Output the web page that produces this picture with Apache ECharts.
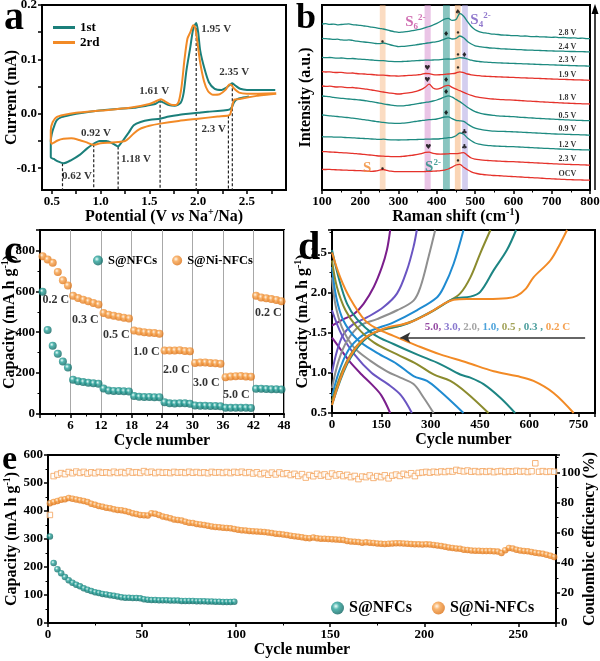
<!DOCTYPE html>
<html><head><meta charset="utf-8">
<script src="https://cdn.jsdelivr.net/npm/echarts@6/dist/echarts.min.js"></script>
<style>html,body{margin:0;padding:0;background:#fff}#c{width:600px;height:661px}</style>
</head><body><div id="c"></div>
<script>
// ---------- Panel a : CV curves ----------
const cv1V = [2.52,2.46,2.40,2.37,2.35,2.33,2.30,2.2,2.1,2.0,1.9,1.8,1.7,1.61,1.51,1.41,1.34,1.29,1.23,1.20,1.18,1.13,1.06,0.99,0.93,0.86,0.79,0.70,0.62,0.57,0.52,0.49,
  0.49,0.50,0.52,0.55,0.60,0.69,0.82,0.99,1.17,1.34,1.47,1.56,1.61,1.64,1.70,1.76,1.82,1.85,1.88,1.92,1.95,1.98,2.00,2.02,2.06,2.11,2.17,2.24,2.29,2.33,2.35,2.38,2.43,2.50,2.79];
const cv1I = [0.032,0.030,0.027,0.022,0.014,0.009,0.007,0.005,0.004,0.002,0.000,-0.002,-0.005,-0.009,-0.011,-0.015,-0.021,-0.034,-0.049,-0.056,-0.060,-0.055,-0.050,-0.050,-0.055,-0.064,-0.075,-0.085,-0.091,-0.088,-0.083,-0.080,
  -0.050,-0.037,-0.025,-0.012,-0.006,-0.002,0.002,0.006,0.009,0.011,0.015,0.018,0.023,0.021,0.016,0.015,0.020,0.037,0.080,0.123,0.157,0.167,0.150,0.117,0.086,0.058,0.046,0.044,0.048,0.054,0.056,0.052,0.046,0.044,0.044];
const cv2V = [2.80,2.70,2.60,2.50,2.42,2.37,2.35,2.33,2.31,2.20,2.00,1.80,1.61,1.50,1.40,1.34,1.29,1.25,1.18,1.10,1.00,0.93,0.85,0.78,0.70,0.62,0.56,0.52,0.50,
  0.49,0.49,0.51,0.55,0.62,0.75,1.00,1.30,1.50,1.58,1.62,1.66,1.72,1.77,1.80,1.83,1.86,1.89,1.92,1.95,1.97,1.99,2.02,2.06,2.10,2.15,2.22,2.28,2.32,2.34,2.37,2.42,2.50,2.80];
const cv2I = [0.037,0.035,0.033,0.030,0.027,0.026,0.015,0.000,-0.003,-0.005,-0.009,-0.013,-0.018,-0.022,-0.028,-0.036,-0.045,-0.050,-0.052,-0.053,-0.054,-0.057,-0.052,-0.048,-0.045,-0.046,-0.049,-0.053,-0.055,
  -0.050,-0.030,-0.015,-0.006,-0.002,0.002,0.006,0.011,0.018,0.024,0.027,0.023,0.017,0.016,0.022,0.050,0.100,0.138,0.150,0.163,0.158,0.135,0.095,0.060,0.042,0.035,0.036,0.044,0.054,0.053,0.046,0.039,0.037,0.038];
const dashX = [0.61,0.93,1.18,1.61,1.98,2.31,2.35];
const dashTop = [-0.091,-0.056,-0.060,0.026,0.167,-0.003,0.056];
const aLblText = ['1.95 V','2.35 V','1.61 V','0.92 V','2.3 V','1.18 V','0.62 V'];
const aLblX = [2.185,2.37,1.55,0.954,2.16,1.364,0.759];
const aLblY = [0.155,0.076,0.041,-0.035,-0.029,-0.084,-0.115];

// ---------- Panel b : Raman spectra (stacked, a.u.) ----------
const ramanStart = 100, ramanStep = 10;
const specNames = ['2.8 V','2.4 V','2.3 V','1.9 V','1.8 V','0.5 V','0.9 V','1.2 V','2.3 V','OCV'];
const specKind = ['t','t','t','r','r','t','t','t','r','r'];
const spec1 = [166.0,166.3,165.6,165.9,165.2,165.5,165.8,166.1,165.4,165.0,164.6,164.0,163.6,162.8,162.4,161.6,161.0,160.2,159.0,158.2,157.6,157.9,158.3,158.8,159.6,160.3,161.2,162.4,163.5,165.0,166.6,168.7,170.9,171.6,169.6,170.4,176.5,173.8,168.4,163.5,160.2,158.4,157.4,156.9,156.2,155.8,155.5,155.0,154.8,154.6,154.3,154.4,153.9,154.0,153.6,153.4,153.5,153.1,153.2,152.8,152.7,152.8,152.4,152.5,152.1,152.0,152.1,151.7,151.8,151.4,151.3];
const spec2 = [151.7,151.3,151.0,150.6,150.8,150.2,149.8,150.1,149.6,148.9,148.3,148.0,147.6,147.1,146.5,146.3,147.0,146.2,145.0,144.2,143.4,143.6,143.9,144.3,144.8,145.5,146.0,146.7,147.2,147.8,148.3,149.4,150.8,152.2,151.0,151.6,154.0,152.3,148.6,146.0,144.2,143.4,142.8,142.5,142.0,141.8,141.5,141.1,141.0,140.8,140.6,140.4,140.3,140.0,139.9,139.8,139.6,139.5,139.3,139.2,139.1,138.9,138.8,138.8,138.6,138.5,138.5,138.3,138.3,138.2,138.1];
const spec3 = [132.7,132.4,132.5,132.1,131.9,132.0,131.6,131.4,131.5,131.1,130.8,130.6,130.3,130.0,129.6,129.4,129.3,128.9,128.6,128.4,128.3,128.5,128.7,128.9,129.2,129.4,129.6,129.8,129.9,130.0,130.1,130.4,130.8,131.0,130.8,131.4,132.4,132.0,131.0,129.8,129.0,128.5,128.1,127.8,127.6,127.3,127.1,127.0,126.8,126.7,126.6,126.4,126.3,126.1,126.0,125.8,125.7,125.5,125.4,125.3,125.1,125.0,124.8,124.7,124.6,124.4,124.3,124.2,124.1,124.0,123.9];
const spec4 = [118.3,118.0,118.2,117.7,117.5,117.6,117.1,116.9,117.0,116.5,116.2,116.0,115.6,115.5,115.1,114.8,114.9,114.5,114.2,114.1,113.9,114.1,114.4,114.6,114.8,115.2,115.7,116.5,116.3,115.4,115.1,115.3,115.6,116.0,116.3,117.0,118.2,117.3,116.0,115.2,114.6,114.3,113.9,113.7,113.5,113.3,113.1,113.0,112.8,112.7,112.6,112.4,112.2,112.1,111.9,111.8,111.6,111.5,111.3,111.2,111.0,110.9,110.7,110.6,110.5,110.3,110.2,110.1,110.0,109.8,109.7];
const spec5 = [104.0,103.6,103.8,103.3,103.0,103.1,102.6,102.4,102.5,102.0,101.7,101.2,100.6,100.0,99.3,98.6,98.0,97.4,96.8,96.3,96.0,96.3,96.8,97.4,98.2,99.2,100.6,103.0,105.8,102.0,100.8,101.8,103.8,104.6,102.6,100.8,99.3,97.6,96.0,94.6,93.4,92.7,92.1,91.6,91.2,90.9,90.6,90.4,90.2,90.1,89.9,89.6,89.4,89.1,88.9,88.7,88.5,88.2,88.0,87.8,87.6,87.4,87.2,87.0,86.8,86.7,86.5,86.4,86.2,86.1,86.0];
const spec6 = [94.0,93.7,93.3,92.6,92.1,91.7,91.4,91.0,90.7,90.3,90.0,89.5,88.9,88.3,87.6,86.9,86.2,85.5,84.9,84.4,84.1,84.2,84.6,85.0,85.6,86.3,87.0,87.6,88.2,89.0,90.0,91.4,93.0,94.1,92.8,90.6,88.4,85.6,82.8,80.4,78.4,77.1,76.2,75.5,75.0,74.6,74.2,73.9,73.7,73.5,73.3,73.0,72.7,72.5,72.2,72.0,71.7,71.5,71.3,71.1,70.9,70.7,70.5,70.3,70.1,69.9,69.8,69.6,69.5,69.4,69.3];
const spec7 = [75.0,74.6,74.2,73.8,73.5,73.1,72.7,72.3,71.9,71.4,70.8,70.3,69.8,69.2,68.6,68.1,67.6,67.2,66.9,66.7,66.6,66.8,67.2,67.7,68.3,68.9,69.4,69.9,70.3,70.6,71.0,71.9,73.0,73.2,71.3,69.6,69.2,68.6,66.0,63.6,61.9,60.8,60.1,59.6,59.2,58.9,58.7,58.6,58.5,58.4,58.2,58.0,57.8,57.6,57.4,57.2,57.0,56.8,56.6,56.4,56.2,56.0,55.9,55.8,55.6,55.5,55.4,55.3,55.1,55.0,54.9];
const spec8 = [53.3,53.1,53.2,52.9,52.8,52.8,52.5,52.4,52.2,51.9,51.7,51.5,51.3,51.0,50.8,50.6,50.8,50.4,50.2,50.1,50.0,50.1,50.2,50.3,50.4,50.5,50.6,50.8,50.9,51.0,51.0,51.3,51.8,52.3,52.7,54.2,57.0,55.8,52.0,49.2,47.0,45.9,45.2,44.7,44.3,44.0,43.8,43.6,43.5,43.4,43.3,43.1,42.9,42.7,42.5,42.3,42.1,41.9,41.7,41.6,41.4,41.2,41.0,40.9,40.7,40.6,40.4,40.3,40.2,40.1,40.0];
const spec9 = [38.3,38.4,38.0,37.8,37.6,37.3,37.1,36.9,36.6,36.3,36.0,35.6,35.2,34.8,34.4,34.0,33.8,33.6,33.4,33.3,33.3,33.6,34.0,34.5,35.0,35.6,36.4,37.6,37.8,36.6,36.0,35.9,36.0,36.2,36.4,36.4,36.8,37.4,34.6,32.0,30.9,30.3,29.9,29.6,29.3,29.1,28.9,28.7,28.5,28.4,28.3,28.1,27.9,27.7,27.5,27.3,27.1,26.9,26.7,26.5,26.3,26.1,25.9,25.8,25.6,25.5,25.4,25.3,25.1,25.0,24.9];
const spec10 = [20.7,20.5,20.6,20.3,20.2,20.0,19.9,19.7,19.6,19.4,19.3,19.1,18.9,18.6,19.0,19.8,20.5,19.6,18.8,18.4,18.3,18.3,18.4,18.3,18.4,18.3,18.4,18.5,18.6,18.8,19.0,19.3,19.9,21.0,22.8,25.0,25.6,22.8,20.2,18.2,16.8,16.0,15.5,15.1,14.8,14.5,14.3,14.1,13.8,13.6,13.4,13.2,13.0,12.7,12.5,12.3,12.1,11.9,11.6,11.4,11.2,11.0,10.8,10.6,10.4,10.3,10.2,10.1,10.0,9.9,9.8];
const specLblX = 741;
const specLblY = [156.7,143.3,130,115,91.7,74,60.7,45,30.7,16];
const bandFrom = [251,368,416,447,466];
const bandTo   = [266,384,434,462,481];
const bMarkGlyph = ['♠','♦','•','•','•','♦','♥','•','♥','♦','♦','♦','♣','♥','♣','•','•'];
const bMarkX = [455,424,455,258,455,472,375,455,375,424,424,424,472,378,472,258,455];
const bMarkY = [178.3,156,156.7,148.3,135,135,121.7,122.3,110,110,98.3,76.7,57.7,43.3,43.3,21,29.3];

// ---------- Panel c : rate capability ----------
const cycleC = [1,2,3,4,5,6,7,8,9,10,11,12,13,14,15,16,17,18,19,20,21,22,23,24,25,26,27,28,29,30,31,32,33,34,35,36,37,38,39,40,41,42,43,44,45,46,47,48];
const capNiC  = [772,756,740,695,654,628, 578,567,559,551,543,535, 494,486,481,476,471,467, 408,403,400,398,396,393, 310,310,310,312,308,307, 250,252,252,250,248,246, 180,183,185,186,184,182, 578,570,566,562,558,552];
const capNFCc = [598,411,334,295,257,227, 168,160,156,153,150,148, 125,115,113,112,111,110, 88,84,83,83,82,82, 58,52,51,52,52,50, 42,40,40,39,39,38, 30,30,30,31,30,29, 123,124,122,121,121,120];
const cLblText = ['0.2 C','0.3 C','0.5 C','1.0 C','2.0 C','3.0 C','5.0 C','0.2 C'];
const cLblX = [3.1,8.9,15,20.9,26.8,32.7,38.6,44.9];
const cLblY = [558,460,386,303,215,152,93,494];

// ---------- Panel d : charge/discharge profiles ----------
const rates = ['5.0','3.0','2.0','1.0','0.5','0.3','0.2'];
const disCap = [
  [0,25,56,90,120,150,177],
  [0,30,70,120,170,210,243],
  [0,10,30,66,117,167,208,248,279,309],
  [0,13,35,76,137,198,248,289,329,400],
  [0,15,41,76,127,198,258,309,360,410,476],
  [0,20,46,76,127,187,258,329,390,421,461,512,557],
  [0,25,56,101,137,187,258,329,410,492,562,613,674,735]];
const disV = [
  [1.44,1.30,1.13,0.98,0.86,0.72,0.50],
  [1.78,1.47,1.22,1.00,0.86,0.72,0.50],
  [2.19,1.86,1.57,1.32,1.15,1.02,0.94,0.86,0.69,0.50],
  [2.32,1.94,1.65,1.42,1.25,1.11,0.96,0.90,0.77,0.50],
  [2.40,2.07,1.78,1.57,1.38,1.23,1.11,0.98,0.90,0.75,0.50],
  [2.53,2.19,1.86,1.67,1.48,1.36,1.23,1.11,0.98,0.94,0.86,0.69,0.50],
  [2.50,2.19,1.92,1.65,1.55,1.46,1.34,1.23,1.13,1.02,0.96,0.90,0.75,0.50]];
const chCap = [
  [0,35,66,96,127,152,167,177],
  [0,15,35,66,106,157,198,228,248,258],
  [0,20,46,86,137,198,248,269,294,314],
  [0,25,56,106,187,258,319,340,370,400],
  [0,35,76,127,208,289,350,390,421,451,482],
  [0,46,96,147,228,309,370,421,451,492,532,560],
  [0,46,96,157,238,309,340,370,410,471,532,562,590,613,664,694,715]];
const chV = [
  [1.59,1.67,1.73,1.86,2.07,2.32,2.53,2.78],
  [1.00,1.27,1.48,1.61,1.69,1.82,1.99,2.28,2.57,2.78],
  [0.81,1.15,1.40,1.59,1.67,1.78,1.90,2.07,2.45,2.78],
  [0.71,1.06,1.32,1.50,1.63,1.78,1.94,2.07,2.36,2.78],
  [0.65,1.06,1.34,1.50,1.59,1.73,1.88,1.99,2.19,2.49,2.78],
  [0.60,1.11,1.40,1.53,1.61,1.78,1.92,1.95,2.01,2.28,2.53,2.78],
  [0.60,1.13,1.42,1.55,1.63,1.78,1.86,1.91,1.92,1.92,1.93,1.96,2.05,2.19,2.40,2.61,2.78]];
const rateColors = ['#7b1e8c','#6a55c2','#8f8f8f','#1f8bd1','#8b8b2e','#1d8583','#f28a25'];

// ---------- Panel e : long cycling ----------
const capNFCe = [309,214,192,178,164,153,144,137,131,124,119,114,110,107,104,102,99,97,95,92,90,90,89,89,88,85,83,82,82,81,81,81,80,80,80,79,79,79,79,78,78,78,77,77,76,76,75,75,75,76];
const capNiE = [428,432,436,440,442,446,444,441,438,436,432,426,422,418,415,412,410,406,404,403,400,396,392,389,386,385,384,392,390,386,380,378,374,370,368,366,362,358,357,354,352,350,347,345,343,342,340,339,338,336,333,331,330,329,328,327,326,325,323,321,319,318,316,314,312,310,308,306,304,303,305,303,301,301,300,299,298,297,296,293,291,290,289,287,288,287,286,284,283,282,283,284,285,285,284,283,282,281,281,280,281,280,279,277,275,272,270,268,266,265,262,261,259,258,258,257,257,257,256,255,250,260,268,266,262,259,257,256,254,251,249,247,244,240,236];
const ceE = [71.7,97.5,98.5,99.5,98.8,100.2,99.4,100.5,99.6,100.3,99.2,100.0,99.4,100.3,99.7,100.0,99.5,100.4,99.6,100.2,99.5,100.6,99.8,100.1,99.6,100.8,99.9,100.4,99.5,100.2,99.7,100.0,99.5,100.3,99.8,100.1,99.6,100.4,99.7,100.2,99.6,100.0,99.4,100.3,99.8,100.1,99.6,100.2,99.5,100.3,99.8,100.4,99.6,100.1,99.2,100.0,98.8,99.6,98.4,99.8,98.6,99.9,98.9,99.4,98.2,99.0,97.6,98.8,96.5,98.2,97.4,99.0,97.8,98.6,97.2,99.2,97.9,98.7,97.5,98.3,96.8,97.6,95.5,97.2,96.8,97.9,96.3,97.5,96.8,98.0,96.0,97.8,98.5,97.6,99.0,98.2,99.4,97.5,99.6,99.9,100.3,99.8,100.4,100.0,100.6,100.2,100.8,100.5,101.6,101.0,100.6,101.2,100.4,100.8,100.2,100.7,100.3,100.8,100.1,100.6,100.9,100.2,100.7,100.4,101.0,100.5,100.8,100.2,100.7,106.0,100.4,100.8,100.3,100.6,100.4];
const cycleE = ceE.map((_, i) => 1 + 2 * i); // every second cycle: 1,3,...,269

// ---------- styling helpers ----------
const F = "'Liberation Serif','Times New Roman',serif";
const TEAL = '#1b7f7a', ORANGE = '#f28a26';
const zip = (a, b) => a.map((v, i) => [v, b[i]]);
const ball = (hi, mid, dark) => ({type:'radial', x:0.38, y:0.36, r:0.7, colorStops:[{offset:0,color:hi},{offset:0.35,color:mid},{offset:1,color:dark}]});
const tealBall = ball('#e8fffb', '#2aa39b', '#0b5e5a');
const orangeBall = ball('#fff6e8', '#f7a24c', '#d96c0e');
const nameStyle = {fontFamily:F, fontWeight:'bold', fontSize:16, color:'#000',
  rich:{t:{fontFamily:F,fontWeight:'bold',fontSize:16,color:'#000',lineHeight:20},
        i:{fontFamily:F,fontWeight:'bold',fontStyle:'italic',fontSize:16,color:'#000',lineHeight:20},
        s:{fontFamily:F,fontWeight:'bold',fontSize:10,color:'#000',lineHeight:10,verticalAlign:'top'}}};
function merge(a, b) { const o = Object.assign({}, a); for (const k in b) { if (b[k] && typeof b[k] === 'object' && !Array.isArray(b[k]) && a[k] && typeof a[k] === 'object') o[k] = merge(a[k], b[k]); else o[k] = b[k]; } return o; }
const axBase = {type:'value', nameLocation:'middle', nameMoveOverlap:false, nameTextStyle:nameStyle,
  axisLine:{show:true, onZero:false, lineStyle:{color:'#000', width:2}},
  axisTick:{show:true, length:4, lineStyle:{color:'#000', width:1.5}},
  minorTick:{show:true, splitNumber:2, length:2.5, lineStyle:{color:'#000', width:1}},
  splitLine:{show:false},
  axisLabel:{color:'#000', fontFamily:F, fontWeight:'bold', fontSize:13, margin:5}};
const ax = o => merge(axBase, o);
const fmt1 = v => v.toFixed(1);
const capName = '{t|Capacity (mA h g}{s|-1}{t|)}';

function textSeries(xi, yi, items, lab) {
  return {type:'scatter', xAxisIndex:xi, yAxisIndex:yi, symbolSize:1, silent:true, z:20,
    itemStyle:{color:'rgba(0,0,0,0)'},
    label:merge({show:true, position:'inside', formatter:'{b}', fontFamily:F, fontWeight:'bold', fontSize:11, color:'#000'}, lab||{}),
    data:items};
}

const series = [];
// a
series.push({name:'1st', type:'line', xAxisIndex:0, yAxisIndex:0, data:zip(cv1V, cv1I), smooth:0.25, symbol:'none', lineStyle:{color:TEAL, width:2}, itemStyle:{color:TEAL}, z:4});
series.push({name:'2rd', type:'line', xAxisIndex:0, yAxisIndex:0, data:zip(cv2V, cv2I), smooth:0.25, symbol:'none', lineStyle:{color:ORANGE, width:2}, itemStyle:{color:ORANGE}, z:5});
dashX.forEach((x, i) => series.push({type:'line', xAxisIndex:0, yAxisIndex:0, data:[[x, dashTop[i]], [x, -0.14]], symbol:'none', silent:true, lineStyle:{color:'#222', width:1.2, type:[3,2]}, z:3}));
series.push(textSeries(0, 0, aLblText.map((t, i) => ({name:t, value:[aLblX[i], aLblY[i]]})), {fontSize:11}));

// b
const specs = [spec1,spec2,spec3,spec4,spec5,spec6,spec7,spec8,spec9,spec10];
const bandColors = ['rgba(246,178,120,0.45)','rgba(214,140,205,0.5)','rgba(40,150,140,0.55)','rgba(246,178,120,0.55)','rgba(175,165,225,0.55)'];
specs.forEach((s, k) => {
  const col = specKind[k] === 't' ? '#1d8a80' : '#e5322b';
  const ser = {type:'line', xAxisIndex:1, yAxisIndex:1, data:s.map((v, i) => [ramanStart + i * ramanStep, v]), symbol:'none', smooth:0.3, lineStyle:{color:col, width:1.3}, z:4, silent:true};
  if (k === 0) ser.markArea = {silent:true, data:bandFrom.map((f, j) => [{xAxis:f, itemStyle:{color:bandColors[j]}}, {xAxis:bandTo[j]}])};
  series.push(ser);
});
series.push(textSeries(1, 1, specNames.map((t, i) => ({name:t, value:[specLblX, specLblY[i]]})), {fontSize:8}));
series.push(textSeries(1, 1, bMarkGlyph.map((t, i) => ({name:t, value:[bMarkX[i], bMarkY[i]]})), {fontSize:7, fontFamily:"'DejaVu Sans',sans-serif"}));
const sRich = (c) => ({b:{fontFamily:F,fontWeight:'bold',fontSize:15,color:c,lineHeight:18},
  sub:{fontFamily:F,fontWeight:'bold',fontSize:9,color:c,lineHeight:9,verticalAlign:'bottom'},
  sup:{fontFamily:F,fontWeight:'bold',fontSize:9,color:c,lineHeight:9,verticalAlign:'top'}});
series.push(textSeries(1, 1, [
  {name:'S6', value:[344,168], label:{formatter:'{b|S}{sub|6}{sup|2-}', rich:sRich('#c44a9f')}},
  {name:'S4', value:[514,170], label:{formatter:'{b|S}{sub|4}{sup|2-}', rich:sRich('#7658c0')}},
  {name:'S', value:[218,22], label:{formatter:'{b|S}', rich:sRich('#f08a30')}},
  {name:'S2', value:[390,23], label:{formatter:'{b|S}{sup|2-}', rich:sRich('#1d8a80')}}
], {}));

// c
series.push({name:'S@NFCs', type:'scatter', xAxisIndex:2, yAxisIndex:2, data:zip(cycleC.map(c => c - 0.5), capNFCc), symbolSize:8, itemStyle:{color:tealBall}, z:5});
series.push({name:'S@Ni-NFCs', type:'scatter', xAxisIndex:2, yAxisIndex:2, data:zip(cycleC.map(c => c - 0.5), capNiC), symbolSize:8, itemStyle:{color:orangeBall}, z:5});
series.push(textSeries(2, 2, cLblText.map((t, i) => ({name:t, value:[cLblX[i], cLblY[i]]})), {fontSize:12}));

// d
rates.forEach((r, k) => {
  series.push({type:'line', xAxisIndex:3, yAxisIndex:3, data:zip(disCap[k], disV[k]), smooth:0.35, symbol:'none', lineStyle:{color:rateColors[k], width:2}, silent:true, z:4});
  series.push({type:'line', xAxisIndex:3, yAxisIndex:3, data:zip(chCap[k], chV[k]), smooth:0.35, symbol:'none', lineStyle:{color:rateColors[k], width:2}, silent:true, z:4,
    markLine: k === 6 ? {silent:true, symbol:['none','arrow'], symbolSize:[8,10], label:{show:false}, lineStyle:{color:'#333', width:1.5, type:'solid'},
      data:[[{coord:[770, 1.44]}, {coord:[208, 1.44]}]]} : undefined});
});
const rr = {}; ['p','v','g','b','o','t','r'].forEach((key, i) => rr[key] = {fontFamily:F, fontWeight:'bold', fontSize:11, color:rateColors[i]});
series.push(textSeries(3, 3, [{name:'lbl', value:[503, 1.57], label:{formatter:'{p|5.0, }{v|3.0, }{g|2.0, }{b|1.0, }{o|0.5 , }{t|0.3 , }{r|0.2 C}', rich:rr}}], {}));

// e
series.push({name:'CE', type:'scatter', xAxisIndex:4, yAxisIndex:5, data:zip(cycleE, ceE), symbol:'rect', symbolSize:5.5, itemStyle:{color:'#fff', borderColor:'#f4a25a', borderWidth:1}, z:3});
series.push({name:'S@Ni-NFCs', type:'scatter', xAxisIndex:4, yAxisIndex:4, data:zip(cycleE, capNiE), symbolSize:6.5, itemStyle:{color:orangeBall}, z:4});
series.push({name:'S@NFCs', type:'scatter', xAxisIndex:4, yAxisIndex:4, data:zip(cycleE.slice(0, capNFCe.length), capNFCe), symbolSize:6.5, itemStyle:{color:tealBall}, z:5});

const gridBox = g => Object.assign(g, {show:true, borderColor:'#000', borderWidth:2, backgroundColor:'transparent', containLabel:false, outerBoundsMode:'none'});
const letter = (t, x, y, size) => ({type:'text', left:x, top:y, z:50, style:{text:t, fontFamily:F, fontWeight:'bold', fontSize:size, fill:'#000'}});

const option = {
  animation:false,
  backgroundColor:'#fff',
  grid:[
    gridBox({left:42, top:5, width:244, height:185}),
    gridBox({left:322, top:5, width:268, height:185}),
    gridBox({left:40, top:230, width:244, height:184}),
    gridBox({left:332, top:230, width:263, height:183}),
    gridBox({left:48, top:455, width:508, height:168})
  ],
  xAxis:[
    ax({gridIndex:0, min:0.4, max:2.9, name:'{t|Potential (V }{i|vs}{t| Na}{s|+}{t|/Na)}', nameGap:17,
        axisLabel:{customValues:[0.5,1,1.5,2,2.5], formatter:fmt1}, axisTick:{customValues:[0.5,0.75,1,1.25,1.5,1.75,2,2.25,2.5,2.75]}, minorTick:{show:false}}),
    ax({gridIndex:1, min:100, max:800, interval:100, name:'{t|Raman shift (cm}{s|-1}{t|)}', nameGap:17}),
    ax({gridIndex:2, min:0, max:48, interval:6, name:'Cycle number', nameGap:19, axisLabel:{showMinLabel:false},
        splitLine:{show:true, lineStyle:{color:'#a8a8a8', width:1}}}),
    ax({gridIndex:3, min:0, max:800, interval:150, name:'Cycle number', nameGap:19, axisLabel:{showMaxLabel:false}}),
    ax({gridIndex:4, min:0, max:270, interval:50, name:'Cycle number', nameGap:19, axisLabel:{showMaxLabel:false}})
  ],
  yAxis:[
    ax({gridIndex:0, min:-0.14, max:0.2, name:'Current (mA)', nameGap:22,
        axisLabel:{customValues:[-0.1,0,0.1,0.2], formatter:fmt1}, axisTick:{customValues:[-0.1,-0.05,0,0.05,0.1,0.15,0.2]}, minorTick:{show:false}}),
    ax({gridIndex:1, min:0, max:185, name:'Intensity (a.u.)', nameGap:8, axisLabel:{show:false}, axisTick:{show:false}, minorTick:{show:false}}),
    ax({gridIndex:2, min:0, max:900, interval:200, name:capName, nameGap:20, axisLabel:{showMaxLabel:false}}),
    ax({gridIndex:3, min:0.5, max:2.78, interval:0.5, name:capName, nameGap:19, axisLabel:{showMaxLabel:false, formatter:fmt1}}),
    ax({gridIndex:4, min:0, max:600, interval:100, name:capName, nameGap:26}),
    ax({gridIndex:4, position:'right', min:0, max:111.5, interval:20, name:'Coulombic efficiency (%)', nameGap:26, nameRotate:90, axisLabel:{showMaxLabel:false}})
  ],
  legend:[
    {data:['1st','2rd'], orient:'vertical', left:48, top:16, itemWidth:22, itemHeight:3, itemGap:2, icon:'rect', selectedMode:false,
     textStyle:{fontFamily:F, fontWeight:'bold', fontSize:13, color:'#000'}},
    {data:['S@NFCs','S@Ni-NFCs'], left:88, top:249, itemWidth:10, itemHeight:10, itemGap:15, icon:'circle', selectedMode:false,
     textStyle:{fontFamily:F, fontWeight:'bold', fontSize:12.5, color:'#000'}},
    {data:['S@NFCs','S@Ni-NFCs'], left:326, top:595, itemWidth:13, itemHeight:13, itemGap:20, icon:'circle', selectedMode:false,
     textStyle:{fontFamily:F, fontWeight:'bold', fontSize:16, color:'#000'}}
  ],
  graphic:[
    letter('a', 4, -1, 40), letter('b', 296, 1, 36), letter('c', 4, 233, 40), letter('d', 298, 229, 40), letter('e', 2, 443, 34),
    {type:'line', z:50, shape:{x1:595, y1:190, x2:595, y2:9}, style:{stroke:'#000', lineWidth:1.5}},
    {type:'polygon', z:50, shape:{points:[[591.5,14],[595,4],[598.5,14]]}, style:{fill:'#000'}}
  ],
  series
};
const chart = echarts.init(document.getElementById('c'), null, {renderer:'canvas'});
chart.setOption(option);
</script></body></html>
